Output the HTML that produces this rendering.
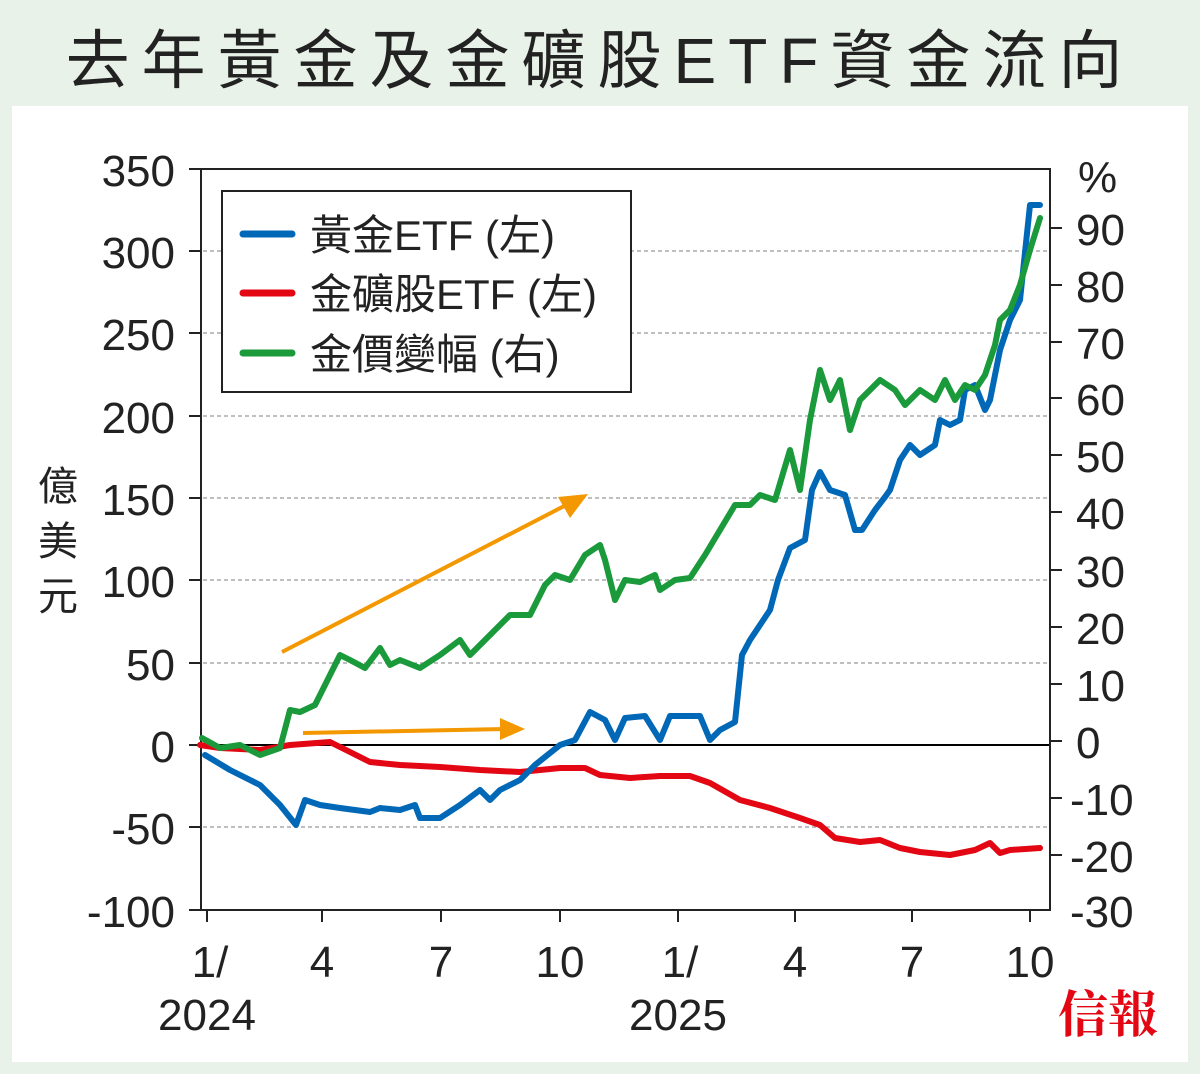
<!DOCTYPE html>
<html><head><meta charset="utf-8"><style>
body{margin:0;background:#e9f2e8;}
#w{position:relative;width:1200px;height:1074px;background:#e9f2e8;font-family:"Liberation Sans","Noto Sans CJK TC",sans-serif;}
#t{position:absolute;left:0;top:10px;width:1200px;text-align:center;font-size:64px;letter-spacing:12px;color:#222;font-family:"Liberation Sans","Noto Sans CJK TC",sans-serif;}
#p{position:absolute;left:12px;top:106px;width:1176px;height:956px;background:#fff;}
svg{position:absolute;left:0;top:0;}
</style></head><body><div id="w">
<div id="t">去年黃金及金礦股ETF資金流向</div>
<div id="p"></div>
<svg width="1200" height="1074" font-family="Liberation Sans, Noto Sans CJK TC, sans-serif">
<g stroke="#999" stroke-dasharray="4,3" stroke-width="1.2">
<line x1="203" x2="1050" y1="251" y2="251"/><line x1="203" x2="1050" y1="333" y2="333"/>
<line x1="203" x2="1050" y1="416" y2="416"/><line x1="203" x2="1050" y1="498" y2="498"/>
<line x1="203" x2="1050" y1="580" y2="580"/><line x1="203" x2="1050" y1="663" y2="663"/>
<line x1="203" x2="1050" y1="827" y2="827"/>
</g>
<line x1="203" x2="1050" y1="745" y2="745" stroke="#000" stroke-width="2"/>
<rect x="201" y="169" width="849" height="741" fill="none" stroke="#222" stroke-width="2"/>
<g stroke="#222" stroke-width="2">
<line x1="189" x2="201" y1="169" y2="169"/><line x1="189" x2="201" y1="251" y2="251"/><line x1="189" x2="201" y1="333" y2="333"/><line x1="189" x2="201" y1="416" y2="416"/><line x1="189" x2="201" y1="498" y2="498"/><line x1="189" x2="201" y1="580" y2="580"/><line x1="189" x2="201" y1="663" y2="663"/><line x1="189" x2="201" y1="745" y2="745"/><line x1="189" x2="201" y1="827" y2="827"/><line x1="189" x2="201" y1="910" y2="910"/>
<line x1="1050" x2="1062" y1="228" y2="228"/><line x1="1050" x2="1062" y1="285" y2="285"/><line x1="1050" x2="1062" y1="342" y2="342"/><line x1="1050" x2="1062" y1="398" y2="398"/><line x1="1050" x2="1062" y1="455" y2="455"/><line x1="1050" x2="1062" y1="512" y2="512"/><line x1="1050" x2="1062" y1="570" y2="570"/><line x1="1050" x2="1062" y1="627" y2="627"/><line x1="1050" x2="1062" y1="684" y2="684"/><line x1="1050" x2="1062" y1="741" y2="741"/><line x1="1050" x2="1062" y1="798" y2="798"/><line x1="1050" x2="1062" y1="855" y2="855"/>
<line x1="207" x2="207" y1="910" y2="922"/><line x1="322" x2="322" y1="910" y2="922"/><line x1="441" x2="441" y1="910" y2="922"/><line x1="560" x2="560" y1="910" y2="922"/><line x1="678" x2="678" y1="910" y2="922"/><line x1="795" x2="795" y1="910" y2="922"/><line x1="912" x2="912" y1="910" y2="922"/><line x1="1030" x2="1030" y1="910" y2="922"/>
</g>
<g font-size="44" fill="#222" text-anchor="end">
<text x="175" y="186">350</text><text x="175" y="268">300</text><text x="175" y="350">250</text><text x="175" y="433">200</text><text x="175" y="515">150</text><text x="175" y="597">100</text><text x="175" y="680">50</text><text x="175" y="762">0</text><text x="175" y="844">-50</text><text x="175" y="927">-100</text>
</g>
<g font-size="44" fill="#222" text-anchor="start">
<text x="1078" y="192">%</text><text x="1076" y="245">90</text><text x="1076" y="302">80</text><text x="1076" y="359">70</text><text x="1076" y="415">60</text><text x="1076" y="472">50</text><text x="1076" y="529">40</text><text x="1076" y="587">30</text><text x="1076" y="644">20</text><text x="1076" y="701">10</text><text x="1076" y="758">0</text><text x="1070" y="815">-10</text><text x="1070" y="872">-20</text><text x="1070" y="927">-30</text>
</g>
<g font-size="44" fill="#222" text-anchor="middle">
<text x="210" y="977">1/</text><text x="207" y="1030">2024</text><text x="322" y="977">4</text><text x="441" y="977">7</text><text x="560" y="977">10</text><text x="680" y="977">1/</text><text x="678" y="1030">2025</text><text x="795" y="977">4</text><text x="912" y="977">7</text><text x="1030" y="977">10</text>
</g>
<g font-size="40" fill="#222" text-anchor="middle"><text x="58" y="500">億</text><text x="58" y="555">美</text><text x="58" y="610">元</text></g>
<g fill="none" stroke-width="6" stroke-linejoin="round" stroke-linecap="round">
<polyline stroke="#e30613" points="200,745 220,748 260,750 290,745 330,742 350,752 370,762 400,765 440,767 480,770 520,772 560,768 585,768 600,775 630,778 660,776 690,776 710,783 740,800 770,808 800,818 820,825 835,838 860,842 880,840 900,848 920,852 950,855 975,850 990,843 1000,853 1010,850 1040,848"/>
<polyline stroke="#0068b7" points="205,755 230,770 260,785 280,805 296,825 305,800 320,805 340,808 370,812 380,808 400,810 415,805 420,818 440,818 460,805 480,790 490,800 500,790 520,780 535,765 560,745 575,740 590,712 605,720 615,740 625,718 645,716 660,740 670,716 700,716 710,740 720,730 735,722 742,655 750,640 760,625 770,610 778,580 790,548 805,540 812,490 820,472 830,490 845,495 855,530 862,530 875,510 885,497 890,490 900,460 910,445 920,455 935,445 940,420 950,425 960,420 965,390 975,385 985,410 990,400 1000,350 1010,320 1020,300 1030,205 1040,205"/>
<polyline stroke="#1a9a3a" points="202,738 220,748 240,745 260,755 280,748 290,710 300,712 315,705 325,685 340,655 350,660 365,668 380,648 390,665 400,660 420,668 440,655 460,640 470,655 490,635 500,625 510,615 530,615 545,585 555,575 570,580 585,555 600,545 605,560 615,600 625,580 640,582 655,575 660,590 675,580 690,578 705,555 720,530 735,505 750,505 760,495 775,500 790,450 800,490 810,420 820,370 830,400 840,380 850,430 860,400 870,390 880,380 895,390 905,405 920,390 935,400 945,380 955,400 965,385 975,390 985,375 995,345 1000,320 1010,310 1020,285 1030,250 1040,218"/>
</g>
<g stroke="#f39800" stroke-width="4" fill="#f39800">
<line x1="282" y1="652" x2="570" y2="503"/><polygon points="588,494 558,497 570,518" stroke="none"/>
<line x1="303" y1="733" x2="505" y2="729"/><polygon points="525,729 500,718 500,740" stroke="none"/>
</g>
<rect x="222" y="191" width="409" height="201" fill="#fff" stroke="#222" stroke-width="2"/>
<g stroke-width="7" stroke-linecap="round"><line x1="243" x2="292" y1="234" y2="234" stroke="#0068b7"/><line x1="243" x2="292" y1="293" y2="293" stroke="#e30613"/><line x1="243" x2="292" y1="353" y2="353" stroke="#1a9a3a"/></g>
<g font-size="42" fill="#222"><text x="310" y="250">黃金ETF (左)</text><text x="310" y="309">金礦股ETF (左)</text><text x="310" y="369">金價變幅 (右)</text></g>
<text x="1108" y="1032" font-size="50" fill="#e30613" font-weight="bold" text-anchor="middle" font-family="Noto Serif CJK SC, serif">信報</text>
</svg>
</div></body></html>
